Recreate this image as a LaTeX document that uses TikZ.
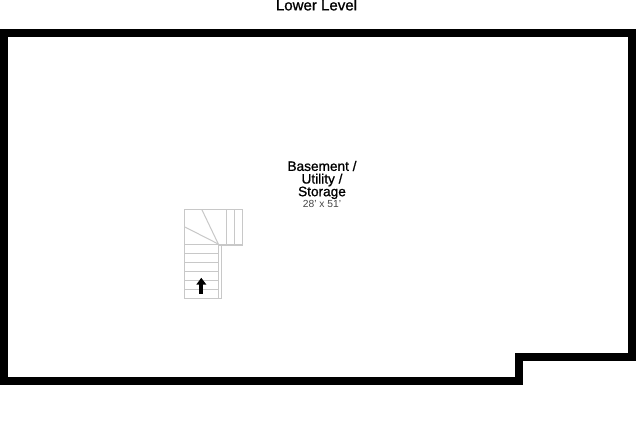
\documentclass[tikz,border=0pt]{standalone}
\usepackage{fontspec}
\setmainfont{Liberation Sans}
\newfontfamily\heavyfont[FakeBold=1]{Liberation Sans}
\usepackage{xcolor}
\usetikzlibrary{arrows.meta}
\definecolor{stairgray}{RGB}{200,200,200}
\definecolor{dimgray}{RGB}{70,70,70}
\tikzstyle{wall} = [line width=0.2cm, color=black, line join=miter]
\tikzstyle{stair} = [line width=0.025cm, color=stairgray]
\tikzstyle{label} = [inner sep=0pt, align=center, font=\heavyfont\fontsize{9.7}{9}\selectfont, text=black]
\tikzstyle{dimension} = [inner sep=0pt, font=\fontsize{7.3}{9}\selectfont, text=dimgray]
\begin{document}
\begin{tikzpicture}[x=0.025cm, y=-0.025cm]
\useasboundingbox (0,0) rectangle (640,423);
\fill[white] (0,0) rectangle (640,423);

% walls
\draw[wall] (4,381) -- (4,33) -- (632,33) -- (632,357) -- (519,357) -- (519,381) -- cycle;

% stairs
\draw[stair] (184.3,209.3) rectangle (242.7,244);
\draw[stair] (184.3,244) rectangle (218.3,298);
\draw[stair] (218.3,298) -- (221.7,298) -- (221.7,244);
\foreach \y in {253.3,262.3,271,280,289}
  \draw[stair] (184.3,\y) -- (218.3,\y);
\foreach \x in {226,234.3}
  \draw[stair] (\x,209.3) -- (\x,244);
\draw[stair] (218.3,244) -- (201.7,209.3);
\draw[stair] (218.3,244) -- (184.3,226.7);
\draw[stair] (218.3,245.5) -- (242.7,245.5);

% arrow
\node[inner sep=0pt, minimum size=0pt] (stairtail) at (201.3,294) {};
\node[inner sep=0pt, minimum size=0pt] (stairhead) at (201.3,277.5) {};
\draw[line width=0.1cm, -{Stealth[length=0.17cm, width=0.24cm, inset=0pt]}] (stairtail) -- (stairhead);

% labels
\node[label, font=\heavyfont\fontsize{10.7}{12}\selectfont] (level) at (316.5,5) {Lower Level};
\node[label] (room) at (322,180) {Basement /\\Utility /\\Storage};
\node[dimension] (size) at (322,203.5) {28' x 51'};
\end{tikzpicture}
\end{document}
